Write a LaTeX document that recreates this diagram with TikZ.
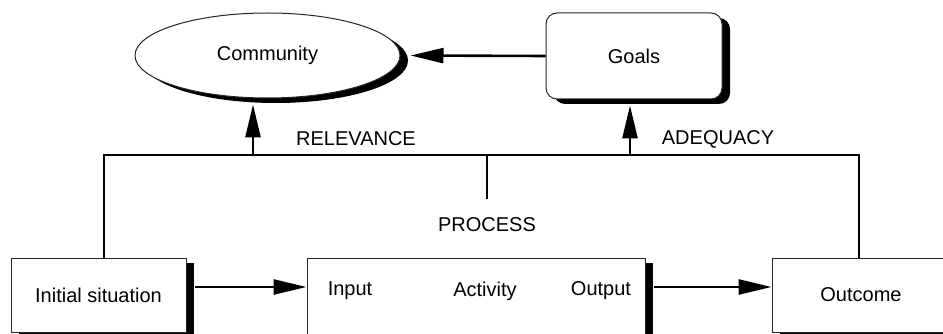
\documentclass[tikz,border=0pt]{standalone}
\usepackage{fontspec}
\setmainfont{Liberation Sans}
\usetikzlibrary{arrows.meta,shapes.geometric,shadows}
\tikzset{
  label text/.style={font=\fontsize{20}{24}\selectfont, inner sep=0pt},
  hardshadow/.style={general shadow={fill=black, shadow xshift=8pt, shadow yshift=-5pt}},
  boxnode/.style={draw=black!85, line width=1pt, fill=white, rectangle, inner sep=0pt,
                  label text, hardshadow},
  bigarrow/.style={line width=2.6pt, -{Triangle[length=33pt,width=15pt]}},
  busline/.style={line width=2.8pt, line join=miter},
}
\begin{document}
\begin{tikzpicture}[x=1pt,y=-1pt]
  \useasboundingbox (0,0) rectangle (943,334);
  \clip (0,0) rectangle (943,334);

  % top row
  \node[boxnode, ellipse, minimum width=265pt, minimum height=85pt] (community) at (267.5,55.5) {Community};
  \node[boxnode, rounded corners=11pt, minimum width=176pt, minimum height=86pt] (goals) at (634,56) {Goals};

  % bottom row
  \node[boxnode, minimum width=175pt, minimum height=74pt] (initial) at (98.5,295) {Initial situation};
  \node[boxnode, minimum width=338pt, minimum height=92pt] (process) at (476,304) {};
  \node[boxnode, minimum width=178pt, minimum height=74pt] (outcome) at (861,295) {Outcome};

  \node[label text] (input) at (350,291) {Input};
  \node[label text] (activity) at (485,291) {Activity};
  \node[label text] (output) at (601,291) {Output};

  % labels along the bus
  \node[label text] (relevance) at (356,139) {RELEVANCE};
  \node[label text] (adequacy) at (718,139) {ADEQUACY};
  \node[label text] (processlbl) at (487,225) {PROCESS};

  % bus line joining the situation and the outcome
  \coordinate (busL) at (104,155);
  \coordinate (busR) at (859,155);
  \coordinate (busM) at (487,155);
  \coordinate (rel) at (253,155);
  \coordinate (ade) at (630,155);
  \draw[busline] (initial.north -| busL) -- (busL) -- (busR) -- (outcome.north -| busR);
  \draw[busline] (busM) -- ++(0,44);

  % level of the flow arrows along the bottom row
  \coordinate (flowA) at ([xshift=8pt,yshift=8pt]initial.east);
  \coordinate (flowB) at ([xshift=8pt]process.east |- flowA);

  % arrows
  \draw[bigarrow] (rel) -- ([yshift=-6pt]community.south -| rel);
  \draw[bigarrow] (ade) -- ([yshift=-6pt]goals.south -| ade);
  \draw[bigarrow] (goals.west) -- ([xshift=10pt]community.east);
  \draw[bigarrow] (flowA) -- (process.west |- flowA);
  \draw[bigarrow] (flowB) -- (outcome.west |- flowA);
\end{tikzpicture}
\end{document}
